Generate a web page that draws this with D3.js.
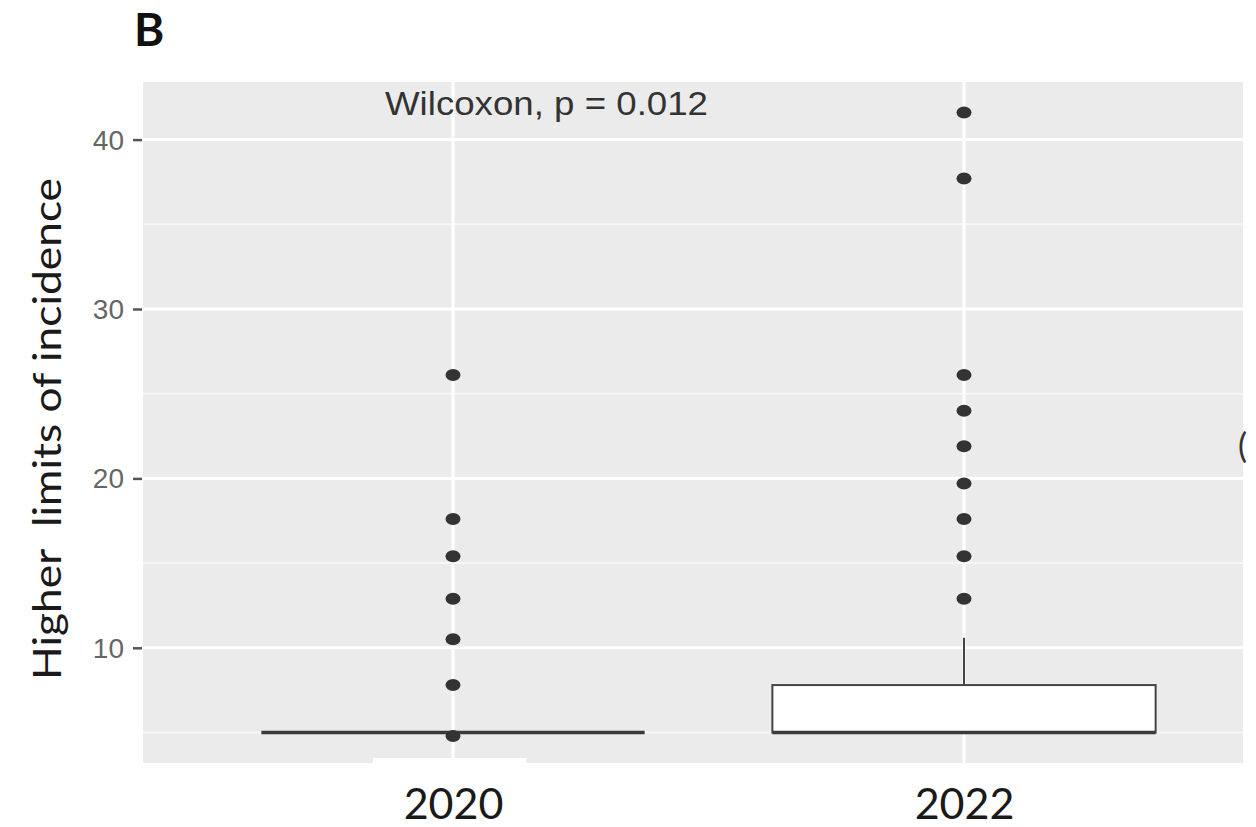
<!DOCTYPE html>
<html>
<head>
<meta charset="utf-8">
<script src="https://cdn.jsdelivr.net/npm/d3@7"></script>
<style>
  body { margin: 0; background: #fff; }
  svg { display: block; }
</style>
</head>
<body>
<svg></svg>
<script>
const width = 1256;
const height = 827;

// data
const years = ['2020', '2022'];
const q1 = [5, 5];
const medians = [5, 5];
const q3 = [5, 7.8];
const whiskerLow = [5, 5];
const whiskerHigh = [5, 10.6];
const outliers2020 = [26.1, 17.6, 15.4, 12.9, 10.5, 7.8, 4.8];
const outliers2022 = [41.6, 37.7, 26.1, 24.0, 21.9, 19.7, 17.6, 15.4, 12.9];
const outliers = [outliers2020, outliers2022];
const yMajor = [10, 20, 30, 40];
const yMinor = [5, 15, 25, 35];

const panel = { left: 143, right: 1243, top: 82, bottom: 763 };

const svg = d3.select('svg')
  .attr('width', width)
  .attr('height', height);

const xScale = d3.scalePoint()
  .domain(years)
  .range([453, 964]);
const step = xScale(years[1]) - xScale(years[0]);
const boxWidth = step * 0.75;

const yScale = d3.scaleLinear()
  .domain([3.2, 43.4])
  .range([panel.bottom, panel.top]);

// ====================================
// Panel + grid
// ====================================
svg.append('rect')
  .attr('x', panel.left)
  .attr('y', panel.top)
  .attr('width', panel.right - panel.left)
  .attr('height', panel.bottom - panel.top)
  .attr('fill', '#ebebeb');

svg.append('g')
  .selectAll('line')
  .data(yMinor)
  .enter()
  .append('line')
  .attr('x1', panel.left)
  .attr('x2', panel.right)
  .attr('y1', d => yScale(d))
  .attr('y2', d => yScale(d))
  .attr('stroke', '#f7f7f7')
  .attr('stroke-width', 2);

svg.append('g')
  .selectAll('line')
  .data(yMajor)
  .enter()
  .append('line')
  .attr('x1', panel.left)
  .attr('x2', panel.right)
  .attr('y1', d => yScale(d))
  .attr('y2', d => yScale(d))
  .attr('stroke', '#fff')
  .attr('stroke-width', 3);

svg.append('g')
  .selectAll('line')
  .data(years)
  .enter()
  .append('line')
  .attr('x1', d => xScale(d))
  .attr('x2', d => xScale(d))
  .attr('y1', panel.top)
  .attr('y2', panel.bottom)
  .attr('stroke', '#fff')
  .attr('stroke-width', 3);

// ====================================
// Y axis
// ====================================
const yAxis = d3.axisLeft(yScale)
  .tickValues(yMajor)
  .tickSize(9)
  .tickPadding(9);

const yG = svg.append('g')
  .attr('transform', `translate(${panel.left - 1}, 0)`)
  .call(yAxis);
yG.select('.domain').remove();
yG.selectAll('.tick line').attr('stroke', '#555').attr('stroke-width', 2.5);
yG.selectAll('.tick text')
  .attr('fill', '#666')
  .attr('font-family', 'Liberation Sans, Arial, sans-serif')
  .attr('font-size', 28)
  .attr('dy', '0.34em');

// ====================================
// X axis labels
// ====================================
svg.append('rect')
  .attr('x', xScale('2020') - 80)
  .attr('y', 758)
  .attr('width', 153)
  .attr('height', 8)
  .attr('fill', '#fff');

const xAxis = d3.axisBottom(xScale).tickSize(0).tickPadding(0);
const xG = svg.append('g')
  .attr('transform', `translate(0, ${panel.bottom})`)
  .call(xAxis);
xG.select('.domain').remove();
xG.selectAll('.tick text')
  .attr('fill', '#1a1a1a')
  .attr('font-family', 'Lato, sans-serif')
  .attr('font-size', 43)
  .attr('dy', 0)
  .attr('y', 56);

// ====================================
// Boxes
// ====================================
const boxes = svg.append('g');
years.forEach((yr, i) => {
  const cx = xScale(yr);
  boxes.append('line')
    .attr('x1', cx).attr('x2', cx)
    .attr('y1', yScale(q3[i])).attr('y2', yScale(whiskerHigh[i]))
    .attr('stroke', '#444').attr('stroke-width', 2);
  boxes.append('line')
    .attr('x1', cx).attr('x2', cx)
    .attr('y1', yScale(q1[i])).attr('y2', yScale(whiskerLow[i]))
    .attr('stroke', '#444').attr('stroke-width', 2);
  boxes.append('rect')
    .attr('x', cx - boxWidth / 2)
    .attr('y', yScale(q3[i]))
    .attr('width', boxWidth)
    .attr('height', yScale(q1[i]) - yScale(q3[i]))
    .attr('fill', '#fff')
    .attr('stroke', '#444')
    .attr('stroke-width', 2);
  boxes.append('line')
    .attr('x1', cx - boxWidth / 2).attr('x2', cx + boxWidth / 2)
    .attr('y1', yScale(medians[i])).attr('y2', yScale(medians[i]))
    .attr('stroke', '#3a3a3a').attr('stroke-width', 3.5);
});

// ====================================
// Outliers
// ====================================
years.forEach((yr, i) => {
  svg.append('g')
    .selectAll('ellipse')
    .data(outliers[i])
    .enter()
    .append('ellipse')
    .attr('cx', xScale(yr))
    .attr('cy', d => yScale(d))
    .attr('rx', 7.5)
    .attr('ry', 6)
    .attr('fill', '#333');
});

// ====================================
// Texts
// ====================================
svg.append('text')
  .text('Wilcoxon, p = 0.012')
  .attr('x', 385)
  .attr('y', 115)
  .attr('fill', '#333')
  .attr('font-family', 'Liberation Sans, Arial, sans-serif')
  .attr('font-size', 34)
  .attr('textLength', 323)
  .attr('lengthAdjust', 'spacingAndGlyphs');

svg.append('text')
  .text('Higher  limits of incidence')
  .attr('transform', 'translate(61, 429) rotate(-90)')
  .attr('text-anchor', 'middle')
  .attr('fill', '#1a1a1a')
  .attr('font-family', 'Lato, sans-serif')
  .attr('font-size', 38)
  .attr('textLength', 502)
  .attr('lengthAdjust', 'spacingAndGlyphs')
  .style('white-space', 'pre');

svg.append('text')
  .text('B')
  .attr('x', 134)
  .attr('y', 46)
  .attr('fill', '#111')
  .attr('font-family', 'Lato, sans-serif')
  .attr('font-weight', 'bold')
  .attr('font-size', 46);

svg.append('text')
  .text('(')
  .attr('x', 1238)
  .attr('y', 458)
  .attr('fill', '#333')
  .attr('font-family', 'Lato, sans-serif')
  .attr('font-size', 34);
</script>
</body>
</html>
